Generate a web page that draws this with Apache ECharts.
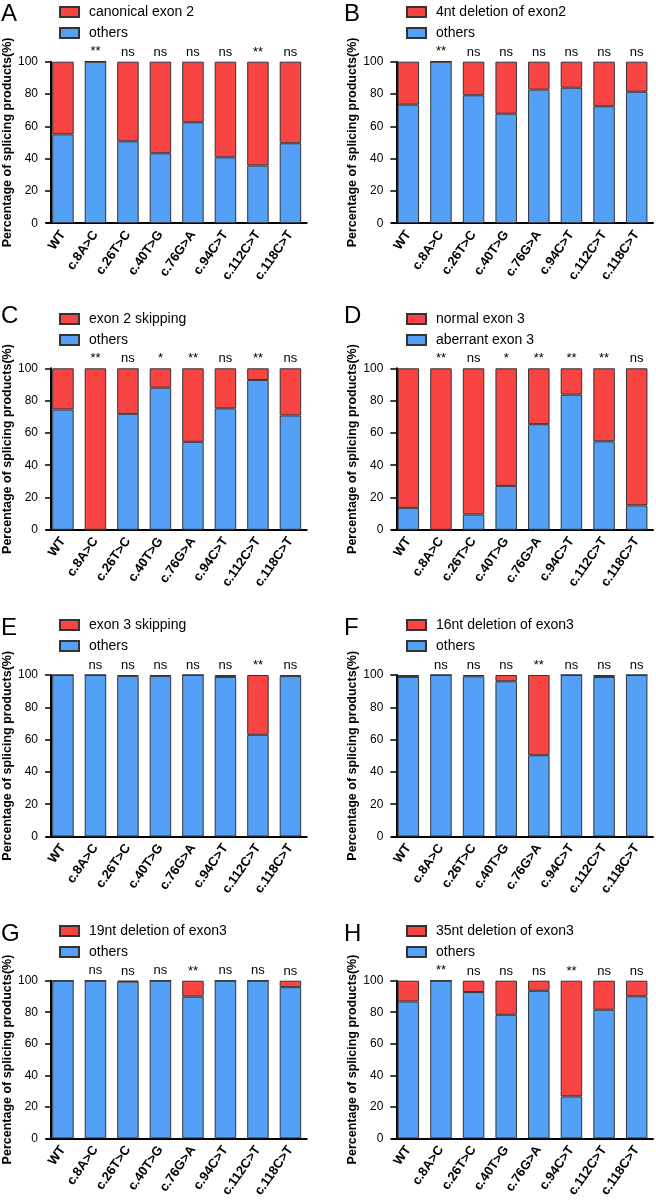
<!DOCTYPE html>
<html>
<head>
<meta charset="utf-8">
<script src="https://cdn.jsdelivr.net/npm/echarts@6/dist/echarts.min.js"></script>
<style>
html,body{margin:0;padding:0;background:#fff;}
#c{width:656px;height:1200px;}
</style>
</head>
<body>
<div id="c"></div>
<script>
const categories = ['WT','c.8A>C','c.26T>C','c.40T>G','c.76G>A','c.94C>T','c.112C>T','c.118C>T'];
const yTicks = [0,20,40,60,80,100];
const panelLetters = ['A','B','C','D','E','F','G','H'];
const redNames = ['canonical exon 2','4nt deletion of exon2','exon 2 skipping','normal exon 3','exon 3 skipping','16nt deletion of exon3','19nt deletion of exon3','35nt deletion of exon3'];
const blueNames = ['others','others','others','aberrant exon 3','others','others','others','others'];
const yAxisTitle = 'Percentage of splicing products(%)';

const blueA = [55,100,50.7,43.3,62.5,40.8,35.7,49.5];
const redA  = [45,0,49.3,56.7,37.5,59.2,64.3,50.5];
const blueB = [73.4,100,79.2,67.8,82.7,83.9,72.4,81.4];
const redB  = [26.6,0,20.8,32.2,17.3,16.1,27.6,18.6];
const blueC = [74.5,0,71.8,88,54.5,75.2,92.8,70.8];
const redC  = [25.5,100,28.2,12,45.5,24.8,7.2,29.2];
const blueD = [13.6,0,9.5,27.2,65.4,83.7,54.8,15.1];
const redD  = [86.4,100,90.5,72.8,34.6,16.3,45.2,84.9];
const blueE = [100,100,99.3,99.3,100,98.8,63,99.3];
const redE  = [0,0,0.7,0.7,0,1.2,37,0.7];
const blueF = [98.8,100,99.2,96.1,50.3,100,98.8,100];
const redF  = [1.2,0,0.8,3.9,49.7,0,1.2,0];
const blueG = [100,100,99.4,100,89.9,100,100,95.9];
const redG  = [0,0,0.6,0,10.1,0,0,4.1];
const blueH = [86.8,100,92.8,78.4,93.6,26.6,81.6,90.1];
const redH  = [13.2,0,7.2,21.6,6.4,73.4,18.4,9.9];

const sigA = ['','**','ns','ns','ns','ns','**','ns'];
const sigB = ['','**','ns','ns','ns','ns','ns','ns'];
const sigC = ['','**','ns','*','**','ns','**','ns'];
const sigD = ['','**','ns','*','**','**','**','ns'];
const sigE = ['','ns','ns','ns','ns','ns','**','ns'];
const sigF = ['','ns','ns','ns','**','ns','ns','ns'];
const sigG = ['','ns','ns','ns','**','ns','ns','ns'];
const sigH = ['','**','ns','ns','ns','**','ns','ns'];

const blues = [blueA,blueB,blueC,blueD,blueE,blueF,blueG,blueH];
const reds = [redA,redB,redC,redD,redE,redF,redG,redH];
const sigs = [sigA,sigB,sigC,sigD,sigE,sigF,sigG,sigH];

const FONT = 'Liberation Sans, Arial, Helvetica, sans-serif';
const RED = '#F94444';
const BLUE = '#55A0F7';
const rowTop = [61.7, 368.3, 675, 980.7];
const legendTop = [4, 311, 617, 923];
const letterTop = [2, 304, 616, 922];
const axisXs = [50, 396.3];
const shift = 4.3;

const option = {
  animation: false,
  backgroundColor: '#fff',
  textStyle: {fontFamily: FONT},
  grid: [], xAxis: [], yAxis: [], series: [], legend: [], graphic: []
};

for (let p = 0; p < 8; p++) {
  const col = p % 2, row = Math.floor(p / 2);
  const ax = axisXs[col];
  option.grid.push({left: ax - shift, top: rowTop[row], width: 261, height: 161.5, containLabel: false});
  option.xAxis.push({
    type: 'category', gridIndex: p, data: categories,
    axisLine: {lineStyle: {color: '#000', width: 2}},
    axisTick: {alignWithLabel: true, length: 6, lineStyle: {color: '#000', width: 2}},
    axisLabel: {interval: 0, rotate: 55, fontSize: 13, fontWeight: 'bold', color: '#000', margin: 9, fontFamily: FONT, hideOverlap: false},
    splitLine: {show: false}
  });
  option.yAxis.push({
    type: 'value', gridIndex: p, min: 0, max: 100, interval: 20, offset: -shift,
    axisLine: {show: true, lineStyle: {color: '#000', width: 2}},
    axisTick: {show: true, length: 6, lineStyle: {color: '#000', width: 1.5}},
    axisLabel: {fontSize: 12, color: '#000', margin: 13, fontFamily: FONT},
    splitLine: {show: false},
    name: yAxisTitle, nameLocation: 'middle', nameGap: 37,
    nameTextStyle: {fontSize: 12.5, fontWeight: 'bold', color: '#000', fontFamily: FONT}
  });
  const stack = 's' + p;
  option.series.push({
    type: 'bar', name: blueNames[p], xAxisIndex: p, yAxisIndex: p, stack: stack,
    data: blues[p], barWidth: 21.5,
    itemStyle: {color: BLUE, borderColor: '#333', borderWidth: 1}
  });
  const sig = sigs[p];
  option.series.push({
    type: 'bar', name: redNames[p], xAxisIndex: p, yAxisIndex: p, stack: stack,
    data: reds[p], barWidth: 21.5,
    itemStyle: {color: RED, borderColor: '#333', borderWidth: 1},
    label: {show: true, position: 'top', distance: 3, fontSize: 13, color: '#000', fontFamily: FONT,
      formatter: (d) => sig[d.dataIndex]}
  });
  option.legend.push({
    data: [redNames[p], blueNames[p]], orient: 'vertical',
    left: col ? 406 : 59, top: legendTop[row] + 1, padding: 0,
    itemWidth: 19, itemHeight: 10, itemGap: 7, icon: 'rect',
    selectedMode: false,
    textStyle: {fontSize: 14, color: '#000', fontFamily: FONT, padding: [0,0,0,5]}
  });
  option.graphic.push({
    type: 'text', left: col ? 344 : 1, top: letterTop[row],
    style: {text: panelLetters[p], fontSize: 24, fill: '#000', fontFamily: FONT}
  });
}

const chart = echarts.init(document.getElementById('c'), null, {renderer: 'canvas', width: 656, height: 1200});
chart.setOption(option);
</script>
</body>
</html>
